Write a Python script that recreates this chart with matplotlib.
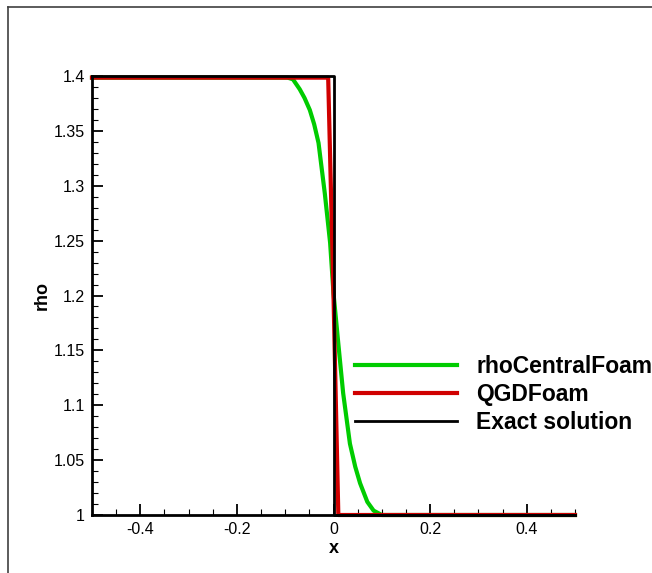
#!/usr/bin/env python3
# Density profile: rhoCentralFoam vs QGDFoam vs exact solution

import matplotlib
matplotlib.use('Agg')
import matplotlib.pyplot as plt
from matplotlib.lines import Line2D
from matplotlib.ticker import MultipleLocator, FuncFormatter

plt.rcParams['font.family'] = ['Liberation Sans', 'DejaVu Sans']

# rhoCentralFoam
x_central = [-0.5, -0.095, -0.084, -0.07, -0.06, -0.049, -0.04, -0.031, -0.018,
             -0.007, 0.0, 0.010, 0.020, 0.034, 0.045, 0.055, 0.07, 0.083, 0.1, 0.5]
rho_central = [1.3985, 1.3985, 1.397, 1.388, 1.38, 1.369, 1.356, 1.339, 1.293,
               1.248, 1.202, 1.156, 1.111, 1.065, 1.044, 1.029, 1.012, 1.004, 1.0, 1.0]

# QGDFoam
x_qgd = [-0.5, -0.011, 0.0, 0.010, 0.5]
rho_qgd = [1.3985, 1.3985, 1.2, 1.0, 1.0]

# Exact solution
x_exact = [-0.5, 0.0, 0.0, 0.5]
rho_exact = [1.4, 1.4, 1.0, 1.0]

fig = plt.figure(figsize=(6.52, 5.73), dpi=100)
ax = fig.add_axes([92 / 652, 1 - 515 / 573, 483 / 652, 439 / 573])

ax.plot(x_central, rho_central, color='#00CC00', lw=3, label='rhoCentralFoam', clip_on=False)
ax.plot(x_qgd, rho_qgd, color='#D00000', lw=3, label='QGDFoam', clip_on=False)
ax.plot(x_exact, rho_exact, color='black', lw=2, label='Exact solution', clip_on=False)

ax.set_xlim(-0.5, 0.5)
ax.set_ylim(1.0, 1.4)

for side in ['top', 'right']:
    ax.spines[side].set_visible(False)
for side in ['left', 'bottom']:
    ax.spines[side].set_linewidth(2)

ax.xaxis.set_major_locator(MultipleLocator(0.2))
ax.xaxis.set_minor_locator(MultipleLocator(0.05))
ax.yaxis.set_major_locator(MultipleLocator(0.05))
ax.yaxis.set_minor_locator(MultipleLocator(0.01))
fmt = FuncFormatter(lambda v, p: f"{v:g}" if abs(v) > 1e-9 else "0")
ax.xaxis.set_major_formatter(fmt)
ax.yaxis.set_major_formatter(fmt)

ax.tick_params(which='major', direction='in', length=8, width=1.3, labelsize=11.5, pad=5)
ax.tick_params(which='minor', direction='in', length=4, width=0.8)

ax.set_xlabel('x', fontsize=13, fontweight='bold', labelpad=2)
ax.set_ylabel('rho', fontsize=13, fontweight='bold', labelpad=2)

ax.legend(loc='upper left', bbox_to_anchor=(355 / 652, 1 - 355 / 573),
          bbox_transform=fig.transFigure, frameon=False,
          prop={'weight': 'bold', 'size': 16.5}, handlelength=4.45,
          handletextpad=0.83, labelspacing=0.21, borderpad=0, borderaxespad=0)

# outer frame lines (top and left only)
fig.add_artist(Line2D([8 / 652, 1.0], [1 - 7 / 573, 1 - 7 / 573], color='#404040', lw=1.2))
fig.add_artist(Line2D([8 / 652, 8 / 652], [0.0, 1 - 7 / 573], color='#404040', lw=1.2))

plt.savefig('out.png', dpi=100)
